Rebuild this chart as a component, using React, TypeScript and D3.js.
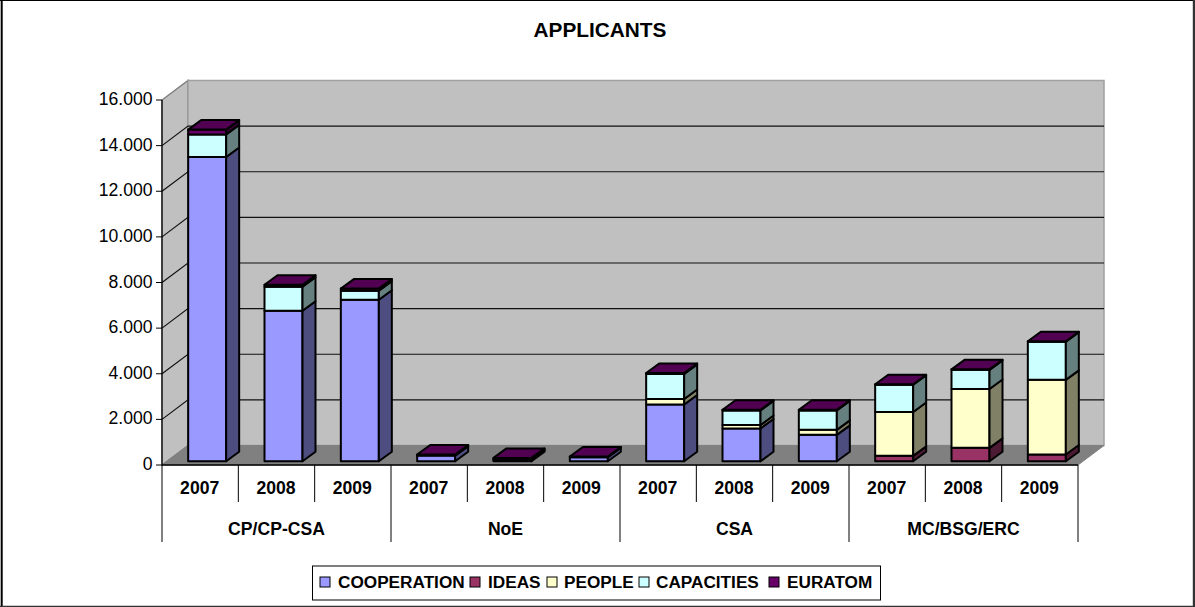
import React from "react";
import * as d3 from "d3";

const years = ["2007", "2008", "2009"];
const groups = ["CP/CP-CSA", "NoE", "CSA", "MC/BSG/ERC"];
const seriesNames = ["COOPERATION", "IDEAS", "PEOPLE", "CAPACITIES", "EURATOM"];
const cooperation = [13340, 6600, 7080, 250, 60, 180, 2490, 1440, 1160, 0, 0, 0];
const ideas = [0, 0, 0, 0, 0, 0, 0, 0, 0, 240, 590, 300];
const people = [0, 0, 0, 0, 0, 0, 240, 150, 220, 1920, 2580, 3270];
const capacities = [990, 1050, 400, 20, 40, 10, 1100, 640, 850, 1200, 840, 1670];
const euratom = [210, 90, 90, 30, 50, 20, 40, 30, 30, 20, 20, 20];
const yTicks = [0, 2000, 4000, 6000, 8000, 10000, 12000, 14000, 16000];
const tickLabels = ["0", "2.000", "4.000", "6.000", "8.000", "10.000", "12.000", "14.000", "16.000"];
const fronts = ["#9999FF", "#993366", "#FFFFCC", "#CCFFFF", "#660066"];
const sides = ["#4D4D80", "#4D1A33", "#808066", "#668080", "#330033"];
const topColor = "#520052";
const legendSwatchX = [320, 470, 547, 639, 769];
const legendTextX = [338, 488, 564, 656, 787];

const seriesValues = [cooperation, ideas, people, capacities, euratom];
const font = "'Liberation Sans', Arial, sans-serif";

const X0 = 162, X1 = 1078, Y0 = 465, Y1 = 100, DX = 26, DY = -19.5;
const y = d3.scaleLinear().domain([0, 16000]).range([Y0, Y1]);
const cats = d3.range(12);
const x = d3.scaleBand<number>().domain(cats).range([X0, X1]);
const stackGen = d3.stack<number>().keys(seriesNames).value((i, k) => seriesValues[seriesNames.indexOf(k as string)][i]);
const stacked = stackGen(cats);

const BAR_W = 38, BDX = 13, BDY = -9.5, BASE_DY = -3.7, BASE_DX = 7;
const pts = (a: number[][]) => a.map((p) => p.join(",")).join(" ");

export default function App() {
  return (
    <svg width={1195} height={607} style={{ position: "absolute", left: 0, top: 0 }} fontFamily={font}>
      <rect x={0} y={0} width={1195} height={607} fill="#fff" />
      <line x1={0} x2={1195} y1={0.5} y2={0.5} stroke="#000" strokeWidth={1} />
      <line x1={1.7} x2={1.7} y1={0} y2={607} stroke="#000" strokeWidth={2} />
      <line x1={1194} x2={1194} y1={0} y2={607} stroke="#333" strokeWidth={2.4} />
      <line x1={0} x2={1195} y1={606.4} y2={606.4} stroke="#333" strokeWidth={1.2} />
      <text x={600} y={37} textAnchor="middle" fontSize={20.8} fontWeight="bold">APPLICANTS</text>

      {/* walls */}
      <polygon points={pts([[X0, Y1], [X0 + DX, Y1 + DY], [X0 + DX, Y0 + DY], [X0, Y0]])} fill="#C0C0C0" stroke="#808080" strokeWidth={1.5} />
      <polygon points={pts([[X0 + DX, Y1 + DY], [X1 + DX, Y1 + DY], [X1 + DX, Y0 + DY], [X0 + DX, Y0 + DY]])} fill="#C0C0C0" stroke="#A0A0A0" strokeWidth={1.5} />
      <polygon points={pts([[X0, Y0], [X0 + DX, Y0 + DY], [X1 + DX, Y0 + DY], [X1, Y0]])} fill="#808080" stroke="#808080" />

      {/* gridlines */}
      {yTicks.slice(1, -1).map((t) => (
        <polyline key={t} points={pts([[X0, y(t)], [X0 + DX, y(t) + DY], [X1 + DX, y(t) + DY]])} fill="none" stroke="#111" strokeWidth={1.2} />
      ))}

      {/* axis */}
      <line x1={X0} x2={X0} y1={Y1} y2={Y0} stroke="#000" strokeWidth={1.2} />
      <line x1={X0} x2={X1} y1={Y0} y2={Y0} stroke="#000" strokeWidth={1.5} />
      {yTicks.map((t, i) => (
        <g key={t}>
          <line x1={X0 - 6} x2={X0} y1={y(t)} y2={y(t)} stroke="#000" strokeWidth={1} />
          <text x={152.5} y={y(t) + 5} textAnchor="end" fontSize={17.6}>{tickLabels[i]}</text>
        </g>
      ))}

      {/* bars */}
      {cats.map((c) => {
        const bx = (x(c) as number) + (x.bandwidth() - BAR_W) / 2 + BASE_DX;
        return (
          <g key={c} stroke="#000" strokeWidth={2} strokeLinejoin="round">
            {stacked.map((s, si) => {
              const [v0, v1] = s[c];
              if (v1 - v0 <= 0) return null;
              const yb = y(v0) + BASE_DY;
              const yt = y(v1) + BASE_DY;
              return (
                <g key={si}>
                  <rect x={bx} y={yt} width={BAR_W} height={yb - yt} fill={fronts[si]} />
                  <polygon points={pts([[bx + BAR_W, yb], [bx + BAR_W + BDX, yb + BDY], [bx + BAR_W + BDX, yt + BDY], [bx + BAR_W, yt]])} fill={sides[si]} />
                </g>
              );
            })}
            {(() => {
              const yt = y(stacked[4][c][1]) + BASE_DY;
              return <polygon points={pts([[bx, yt], [bx + BDX, yt + BDY], [bx + BAR_W + BDX, yt + BDY], [bx + BAR_W, yt]])} fill={topColor} />;
            })()}
          </g>
        );
      })}

      {/* category axis */}
      {d3.range(13).map((i) => {
        const px = X0 + (i * (X1 - X0)) / 12;
        return <line key={i} x1={px} x2={px} y1={Y0} y2={i % 3 === 0 ? 542 : 502} stroke="#000" strokeWidth={1} />;
      })}
      {cats.map((c) => (
        <text key={c} x={(x(c) as number) + x.bandwidth() / 2 - 0.5} y={494} textAnchor="middle" fontSize={17.6} fontWeight="bold">{years[c % 3]}</text>
      ))}
      {groups.map((g, i) => (
        <text key={g} x={(x(i * 3) as number) + (x.bandwidth() * 3) / 2} y={535} textAnchor="middle" fontSize={17.6} fontWeight="bold">{g}</text>
      ))}

      {/* legend */}
      <rect x={312.5} y={566} width={568} height={34} fill="#fff" stroke="#000" strokeWidth={1} />
      {seriesNames.map((n, i) => (
        <g key={n}>
          <rect x={legendSwatchX[i]} y={577} width={10} height={10} fill={fronts[i]} stroke="#000" strokeWidth={1} />
          <text x={legendTextX[i]} y={588} fontSize={17.2} fontWeight="bold">{n}</text>
        </g>
      ))}
    </svg>
  );
}
